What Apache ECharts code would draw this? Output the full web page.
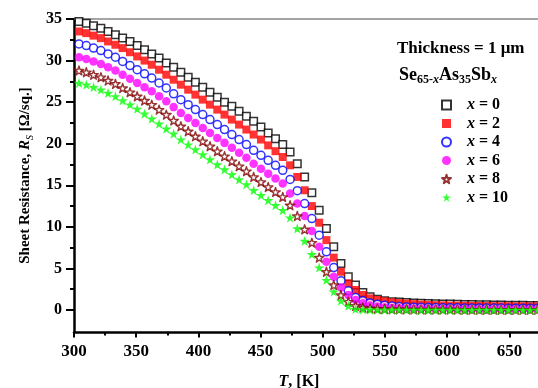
<!DOCTYPE html>
<html>
<head>
<meta charset="utf-8">
<script src="https://cdn.jsdelivr.net/npm/echarts@6/dist/echarts.min.js"></script>
<style>
  html, body { margin: 0; padding: 0; background: #fff; }
  #chart { width: 538px; height: 388px; }
</style>
</head>
<body>
<div id="chart"></div>
<script>
// Temperature points, K
const temps = [304.0, 309.9, 315.7, 321.6, 327.4, 333.3, 339.1, 345.0, 350.8, 356.7,
  362.5, 368.4, 374.2, 380.1, 385.9, 391.8, 397.6, 403.5, 409.3, 415.2,
  421.0, 426.9, 432.7, 438.6, 444.4, 450.3, 456.1, 462.0, 467.8, 473.7,
  479.5, 485.4, 491.2, 497.1, 502.9, 508.8, 514.6, 520.5, 526.3, 532.2,
  538.0, 543.9, 549.7, 555.6, 561.4, 567.3, 573.1, 579.0, 584.8, 590.7,
  596.5, 602.4, 608.2, 614.1, 619.9, 625.8, 631.6, 637.5, 643.3, 649.2,
  655.0, 660.9, 666.7, 672.6];

// Sheet resistance Rs (Ω/sq.) for Se(65-x)As35Sb(x)
const rsX0 = [34.7, 34.5, 34.2, 33.9, 33.5, 33.1, 32.7, 32.3, 31.8, 31.3,
  30.8, 30.3, 29.7, 29.2, 28.6, 28.0, 27.4, 26.8, 26.2, 25.6,
  25.0, 24.5, 23.9, 23.3, 22.7, 22.0, 21.3, 20.6, 19.9, 19.0,
  17.6, 16.0, 14.1, 12.0, 9.8, 7.6, 5.6, 4.0, 3.0, 2.1,
  1.6, 1.3, 1.1, 1.0, 0.95, 0.9, 0.85, 0.82, 0.79, 0.76,
  0.73, 0.71, 0.69, 0.67, 0.65, 0.63, 0.62, 0.6, 0.59, 0.58,
  0.57, 0.56, 0.55, 0.55];
const rsX2 = [33.5, 33.3, 33.0, 32.7, 32.3, 31.9, 31.5, 31.0, 30.5, 30.0,
  29.5, 28.9, 28.3, 27.7, 27.1, 26.5, 25.9, 25.3, 24.7, 24.1,
  23.5, 22.9, 22.3, 21.7, 21.1, 20.5, 19.8, 19.1, 18.4, 17.4,
  16.0, 14.4, 12.5, 10.5, 8.4, 6.3, 4.6, 3.2, 2.4, 1.8,
  1.4, 1.2, 1.05, 0.92, 0.83, 0.76, 0.7, 0.65, 0.61, 0.58,
  0.55, 0.53, 0.51, 0.5, 0.49, 0.48, 0.47, 0.46, 0.45, 0.45,
  0.44, 0.44, 0.43, 0.43];
const rsX4 = [32.0, 31.8, 31.5, 31.2, 30.8, 30.4, 29.9, 29.4, 28.9, 28.4,
  27.9, 27.3, 26.7, 26.0, 25.3, 24.7, 24.1, 23.5, 22.9, 22.3,
  21.7, 21.1, 20.5, 19.9, 19.2, 18.6, 18.0, 17.4, 16.8, 15.7,
  14.35, 12.8, 11.0, 9.0, 7.0, 5.1, 3.5, 2.3, 1.5, 1.1,
  0.85, 0.68, 0.56, 0.47, 0.41, 0.37, 0.34, 0.32, 0.3, 0.29,
  0.28, 0.27, 0.26, 0.25, 0.25, 0.24, 0.24, 0.23, 0.23, 0.22,
  0.22, 0.22, 0.21, 0.21];
const rsX6 = [30.4, 30.2, 29.9, 29.6, 29.2, 28.8, 28.3, 27.8, 27.3, 26.8,
  26.3, 25.7, 25.1, 24.4, 23.7, 23.1, 22.5, 21.9, 21.3, 20.7,
  20.1, 19.5, 18.9, 18.3, 17.6, 17.0, 16.4, 15.8, 15.2, 14.0,
  12.8, 11.3, 9.5, 7.6, 5.8, 4.0, 2.7, 1.8, 1.2, 0.8,
  0.55, 0.4, 0.3, 0.24, 0.2, 0.18, 0.16, 0.15, 0.14, 0.13,
  0.12, 0.12, 0.11, 0.11, 0.1, 0.1, 0.1, 0.1, 0.09, 0.09,
  0.09, 0.09, 0.08, 0.08];
const rsX8 = [28.8, 28.6, 28.3, 28.0, 27.6, 27.2, 26.7, 26.2, 25.7, 25.2,
  24.7, 24.1, 23.5, 22.8, 22.1, 21.5, 20.9, 20.3, 19.7, 19.1,
  18.5, 17.9, 17.3, 16.7, 16.0, 15.4, 14.8, 14.2, 13.6, 12.6,
  11.3, 9.7, 8.1, 6.3, 4.6, 3.0, 1.8, 1.0, 0.5, 0.3,
  0.2, 0.15, 0.12, 0.1, 0.09, 0.08, 0.07, 0.06, 0.06, 0.05,
  0.05, 0.05, 0.05, 0.04, 0.04, 0.04, 0.04, 0.04, 0.03, 0.03,
  0.03, 0.03, 0.03, 0.03];
const rsX10 = [27.3, 27.1, 26.8, 26.5, 26.1, 25.7, 25.2, 24.7, 24.2, 23.6,
  23.0, 22.4, 21.8, 21.2, 20.5, 19.9, 19.3, 18.7, 18.1, 17.5,
  16.9, 16.3, 15.7, 15.1, 14.4, 13.8, 13.2, 12.6, 12.0, 11.1,
  9.8, 8.3, 6.7, 5.1, 3.6, 2.2, 1.1, 0.5, 0.1, 0.04,
  0.03, 0.02, 0.02, 0.01, 0.01, 0.01, 0.01, 0, 0, 0,
  0, 0, 0, 0, 0, 0, 0, 0, 0, 0,
  0, 0, 0, 0];

const seriesNames = ['x = 0', 'x = 2', 'x = 4', 'x = 6', 'x = 8', 'x = 10'];
const seriesValues = [rsX0, rsX2, rsX4, rsX6, rsX8, rsX10];

const xMajorTicks = [300, 350, 400, 450, 500, 550, 600, 650];
const xMinorTicks = [325, 375, 425, 475, 525, 575, 625];
const yMajorTicks = [0, 5, 10, 15, 20, 25, 30, 35];
const yMinorTicks = [2.5, 7.5, 12.5, 17.5, 22.5, 27.5, 32.5];

const FONT = '"Liberation Serif", "Times New Roman", serif';
const STAR = 'path://M50,0 L61,35 L98,35 L68,57 L79,91 L50,70 L21,91 L32,57 L2,35 L39,35 Z';

const markerStyles = [
  { symbol: 'rect', size: 7.5, itemStyle: { color: '#ffffff', borderColor: '#000000', borderWidth: 1.5 } },
  { symbol: 'rect', size: 8, itemStyle: { color: '#ff0000' } },
  { symbol: 'circle', size: 8, itemStyle: { color: '#ffffff', borderColor: '#0000ff', borderWidth: 1.5 } },
  { symbol: 'circle', size: 8.5, itemStyle: { color: '#ff00ff' } },
  { symbol: STAR, size: 9.5, itemStyle: { color: '#ffffff', borderColor: '#800000', borderWidth: 1.4, borderJoin: 'round' } },
  { symbol: STAR, size: 10.5, itemStyle: { color: '#00ff00' } }
];

const chart = echarts.init(document.getElementById('chart'), null, { renderer: 'canvas' });

const series = seriesNames.map((name, s) => ({
  name: name,
  type: 'scatter',
  xAxisIndex: 0,
  yAxisIndex: 0,
  symbol: markerStyles[s].symbol,
  symbolSize: markerStyles[s].size,
  symbolKeepAspect: true,
  itemStyle: markerStyles[s].itemStyle,
  emphasis: { disabled: true },
  data: temps.map((t, i) => [t, seriesValues[s][i]])
}));

const X_MIN = 300, X_MAX = 673, Y_MIN = -2.65, Y_MAX = 35;

chart.setOption({
  animation: false,
  backgroundColor: '#ffffff',
  grid: { left: 74, right: 0, top: 19, bottom: 56, containLabel: false, outerBoundsMode: 'none' },
  xAxis: [
    {
      type: 'value', position: 'bottom', min: X_MIN, max: X_MAX,
      name: '{i|T}{b|, [K]}', nameLocation: 'middle', nameGap: 42,
      nameTextStyle: {
        padding: [0, 14, 0, 0],
        rich: {
          i: { fontFamily: FONT, fontSize: 16, fontWeight: 'bold', fontStyle: 'italic', color: '#000' },
          b: { fontFamily: FONT, fontSize: 16, fontWeight: 'bold', color: '#000' }
        }
      },
      axisLine: { show: true, onZero: false, lineStyle: { color: '#000', width: 2.5 } },
      axisTick: { show: true, inside: false, length: 5.5, customValues: xMajorTicks, lineStyle: { color: '#000', width: 2 } },
      axisLabel: { show: true, customValues: xMajorTicks, margin: 11, fontFamily: FONT, fontSize: 17, fontWeight: 'bold', color: '#000' },
      splitLine: { show: false }
    },
    {
      type: 'value', position: 'bottom', min: X_MIN, max: X_MAX,
      axisLine: { show: false, onZero: false },
      axisTick: { show: true, inside: false, length: 3.5, customValues: xMinorTicks, lineStyle: { color: '#000', width: 2 } },
      axisLabel: { show: false },
      splitLine: { show: false }
    },
    {
      type: 'value', position: 'top', min: X_MIN, max: X_MAX,
      axisLine: { show: true, onZero: false, lineStyle: { color: '#888888', width: 1.5 } },
      axisTick: { show: false },
      axisLabel: { show: false },
      splitLine: { show: false }
    }
  ],
  yAxis: [
    {
      type: 'value', position: 'left', min: Y_MIN, max: Y_MAX,
      name: '{b|Sheet Resistance, }{i|R}{s|S}{b| [Ω/sq.]}',
      nameLocation: 'middle', nameRotate: 90, nameGap: 27,
      nameTextStyle: {
        rich: {
          b: { fontFamily: FONT, fontSize: 15, fontWeight: 'bold', color: '#000', lineHeight: 20 },
          i: { fontFamily: FONT, fontSize: 15, fontWeight: 'bold', fontStyle: 'italic', color: '#000', lineHeight: 20 },
          s: { fontFamily: FONT, fontSize: 10, fontStyle: 'italic', color: '#000', verticalAlign: 'bottom', lineHeight: 10 }
        }
      },
      axisLine: { show: true, onZero: false, lineStyle: { color: '#000', width: 2.5 } },
      axisTick: { show: true, inside: false, length: 8, customValues: yMajorTicks, lineStyle: { color: '#000', width: 2 } },
      axisLabel: { show: true, customValues: yMajorTicks, margin: 12, fontFamily: FONT, fontSize: 16, fontWeight: 'bold', color: '#000' },
      splitLine: { show: false }
    },
    {
      type: 'value', position: 'left', min: Y_MIN, max: Y_MAX,
      axisLine: { show: false, onZero: false },
      axisTick: { show: true, inside: false, length: 4, customValues: yMinorTicks, lineStyle: { color: '#000', width: 2 } },
      axisLabel: { show: false },
      splitLine: { show: false }
    }
  ],
  legend: {
    orient: 'vertical',
    left: 441,
    top: 96,
    padding: 0,
    itemWidth: 9,
    itemHeight: 9,
    itemGap: 0.5,
    selectedMode: false,
    data: seriesNames,
    formatter: function (name) {
      return '{g| }{i|x}{b|' + name.slice(1) + '}';
    },
    textStyle: {
      lineHeight: 18,
      rich: {
        g: { width: 11, fontSize: 16, lineHeight: 18 },
        i: { fontFamily: FONT, fontSize: 16, fontWeight: 'bold', fontStyle: 'italic', color: '#000', lineHeight: 18 },
        b: { fontFamily: FONT, fontSize: 16, fontWeight: 'bold', color: '#000', lineHeight: 18 }
      }
    }
  },
  graphic: [
    {
      type: 'text', left: 397, top: 40,
      style: { text: 'Thickness = 1 μm', font: 'bold 17px ' + FONT, fill: '#000' }
    },
    {
      type: 'text', left: 399, top: 66,
      style: {
        text: '{b|Se}{s|65-}{si|x}{b|As}{s|35}{b|Sb}{si|x}',
        rich: {
          b: { fontFamily: FONT, fontSize: 18, fontWeight: 'bold', fill: '#000', lineHeight: 22 },
          s: { fontFamily: FONT, fontSize: 12, fontWeight: 'bold', fill: '#000', verticalAlign: 'bottom', lineHeight: 11 },
          si: { fontFamily: FONT, fontSize: 12, fontWeight: 'bold', fontStyle: 'italic', fill: '#000', verticalAlign: 'bottom', lineHeight: 11 }
        }
      }
    }
  ],
  series: series
});
</script>
</body>
</html>
